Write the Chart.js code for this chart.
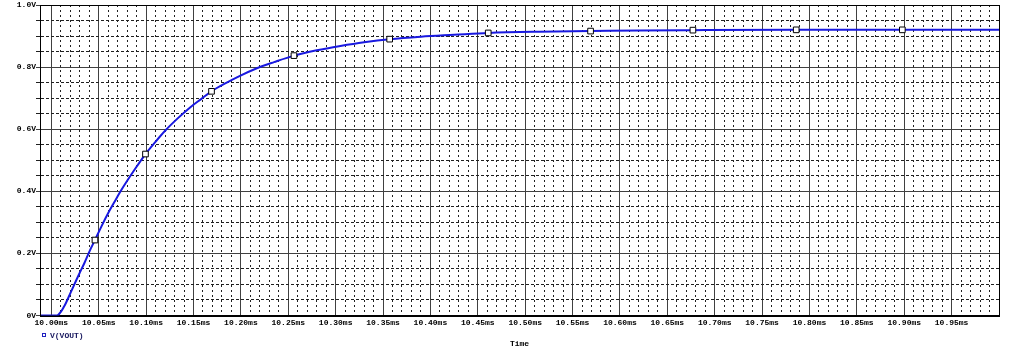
<!DOCTYPE html>
<html>
<head>
<meta charset="utf-8">
<script src="https://cdn.jsdelivr.net/npm/chart.js@4.4.1/dist/chart.umd.min.js"></script>
<style>
  html, body { margin: 0; padding: 0; background: #fff; }
  #wrap { width: 1024px; height: 361px; }
</style>
</head>
<body>
<div id="wrap"><canvas id="vout"></canvas></div>
<script>
// simulation trace V(VOUT), time in ms
const timeMs = [9.988, 10.000, 10.006, 10.010, 10.014, 10.018, 10.022, 10.026, 10.030, 10.035,
  10.040, 10.046, 10.053, 10.060, 10.067, 10.073, 10.080, 10.087, 10.0993, 10.110,
  10.120, 10.133, 10.1467, 10.158, 10.169, 10.185, 10.199, 10.215, 10.235, 10.256,
  10.280, 10.305, 10.330, 10.357, 10.390, 10.425, 10.461, 10.515, 10.569, 10.620,
  10.677, 10.786, 10.898, 11.000];
const vout = [0, 0, 0, 0.012, 0.032, 0.058, 0.085, 0.112, 0.138, 0.170,
  0.205, 0.243, 0.288, 0.330, 0.368, 0.400, 0.434, 0.466, 0.520, 0.560,
  0.595, 0.634, 0.671, 0.697, 0.722, 0.750, 0.772, 0.794, 0.816, 0.837,
  0.854, 0.868, 0.880, 0.890, 0.898, 0.904, 0.910, 0.914, 0.916, 0.918,
  0.919, 0.920, 0.920, 0.920];

// probe markers drawn on the trace
const markerTimes = [10.046, 10.0993, 10.169, 10.256, 10.357, 10.461, 10.569, 10.677, 10.786, 10.898];
const markerVolts = [0.243, 0.52, 0.722, 0.837, 0.89, 0.91, 0.916, 0.919, 0.92, 0.92];

const xMajor = [10.00, 10.05, 10.10, 10.15, 10.20, 10.25, 10.30, 10.35, 10.40, 10.45,
  10.50, 10.55, 10.60, 10.65, 10.70, 10.75, 10.80, 10.85, 10.90, 10.95];
const yMajor = [0, 0.2, 0.4, 0.6, 0.8, 1.0];
const yLabels = ['0V', '0.2V', '0.4V', '0.6V', '0.8V', '1.0V'];

const xMin = 9.988, xMax = 11.0;

const tickFont = { family: '"Liberation Mono", monospace', size: 8, weight: 'bold' };

const isMajor = (v, list) => list.some(m => Math.abs(m - v) < 1e-6);

const xAll = [];
for (let i = 0; i <= 99; i++) xAll.push(+(10 + i * 0.01).toFixed(2));
const yAll = [];
for (let i = 0; i <= 20; i++) yAll.push(+(i * 0.05).toFixed(2));

const frame = {
  id: 'frame',
  afterDatasetsDraw(chart) {
    const { ctx, chartArea: a } = chart;
    ctx.save();
    ctx.strokeStyle = '#000';
    ctx.lineWidth = 1;
    ctx.strokeRect(Math.round(a.left) + 0.5, Math.round(a.top) + 0.5,
      Math.round(a.right - a.left), Math.round(a.bottom - a.top));
    ctx.restore();
  },
  afterDraw(chart) {
    const { ctx } = chart;
    ctx.save();
    ctx.strokeStyle = '#2020c0';
    ctx.lineWidth = 1;
    ctx.strokeRect(42.5, 333.5, 3, 3);
    ctx.fillStyle = '#1a1a60';
    ctx.font = 'bold 8px "Liberation Mono", monospace';
    ctx.textBaseline = 'middle';
    ctx.fillText('V(VOUT)', 50, 335.5);
    ctx.restore();
  }
};

new Chart(document.getElementById('vout'), {
  type: 'line',
  data: {
    datasets: [
      {
        label: 'V(VOUT)',
        data: timeMs.map((t, i) => ({ x: t, y: vout[i] })),
        borderColor: '#1818e0',
        borderWidth: 2,
        pointRadius: 0,
        cubicInterpolationMode: 'monotone',
        order: 2
      },
      {
        label: 'markers',
        data: markerTimes.map((t, i) => ({ x: t, y: markerVolts[i] })),
        showLine: false,
        pointStyle: 'rect',
        pointRadius: 4,
        pointBackgroundColor: '#fff',
        pointBorderColor: '#000',
        pointBorderWidth: 1,
        order: 1
      }
    ]
  },
  options: {
    responsive: true,
    maintainAspectRatio: false,
    animation: false,
    devicePixelRatio: 1,
    layout: { padding: { left: 0, right: 25, top: 5, bottom: 0 } },
    plugins: { legend: { display: false }, tooltip: { enabled: false } },
    scales: {
      x: {
        type: 'linear',
        min: xMin,
        max: xMax,
        afterBuildTicks: s => { s.ticks = xAll.map(v => ({ value: v })); },
        afterFit: s => { s.height = 45.5; },
        grid: {
          drawTicks: false,
          color: c => isMajor(c.tick && c.tick.value, xMajor) ? '#404040' : '#202020',
          lineWidth: 1
        },
        border: {
          display: true, color: '#000',
          dash: c => (c.tick && !isMajor(c.tick.value, xMajor)) ? [2, 3] : []
        },
        ticks: {
          autoSkip: false, maxRotation: 0, padding: 3, color: '#000', font: tickFont,
          callback: v => isMajor(v, xMajor) ? v.toFixed(2) + 'ms' : ''
        },
        title: { display: true, text: 'Time', color: '#000', font: tickFont, padding: { top: 0, bottom: 12 } }
      },
      y: {
        type: 'linear',
        min: 0,
        max: 1.0,
        afterBuildTicks: s => { s.ticks = yAll.map(v => ({ value: v })); },
        afterFit: s => { s.width = 40; },
        grid: {
          drawTicks: true,
          tickLength: 4,
          color: c => isMajor(c.tick && c.tick.value, yMajor) ? '#404040' : '#202020',
          lineWidth: 1
        },
        border: {
          display: true, color: '#000',
          dash: c => (c.tick && !isMajor(c.tick.value, yMajor)) ? [3, 2] : []
        },
        ticks: {
          autoSkip: false, padding: 0, color: '#000', font: tickFont,
          callback: v => {
            const k = yMajor.findIndex(m => Math.abs(m - v) < 1e-6);
            return k >= 0 ? yLabels[k] : '';
          }
        }
      }
    }
  },
  plugins: [frame]
});
</script>
</body>
</html>
